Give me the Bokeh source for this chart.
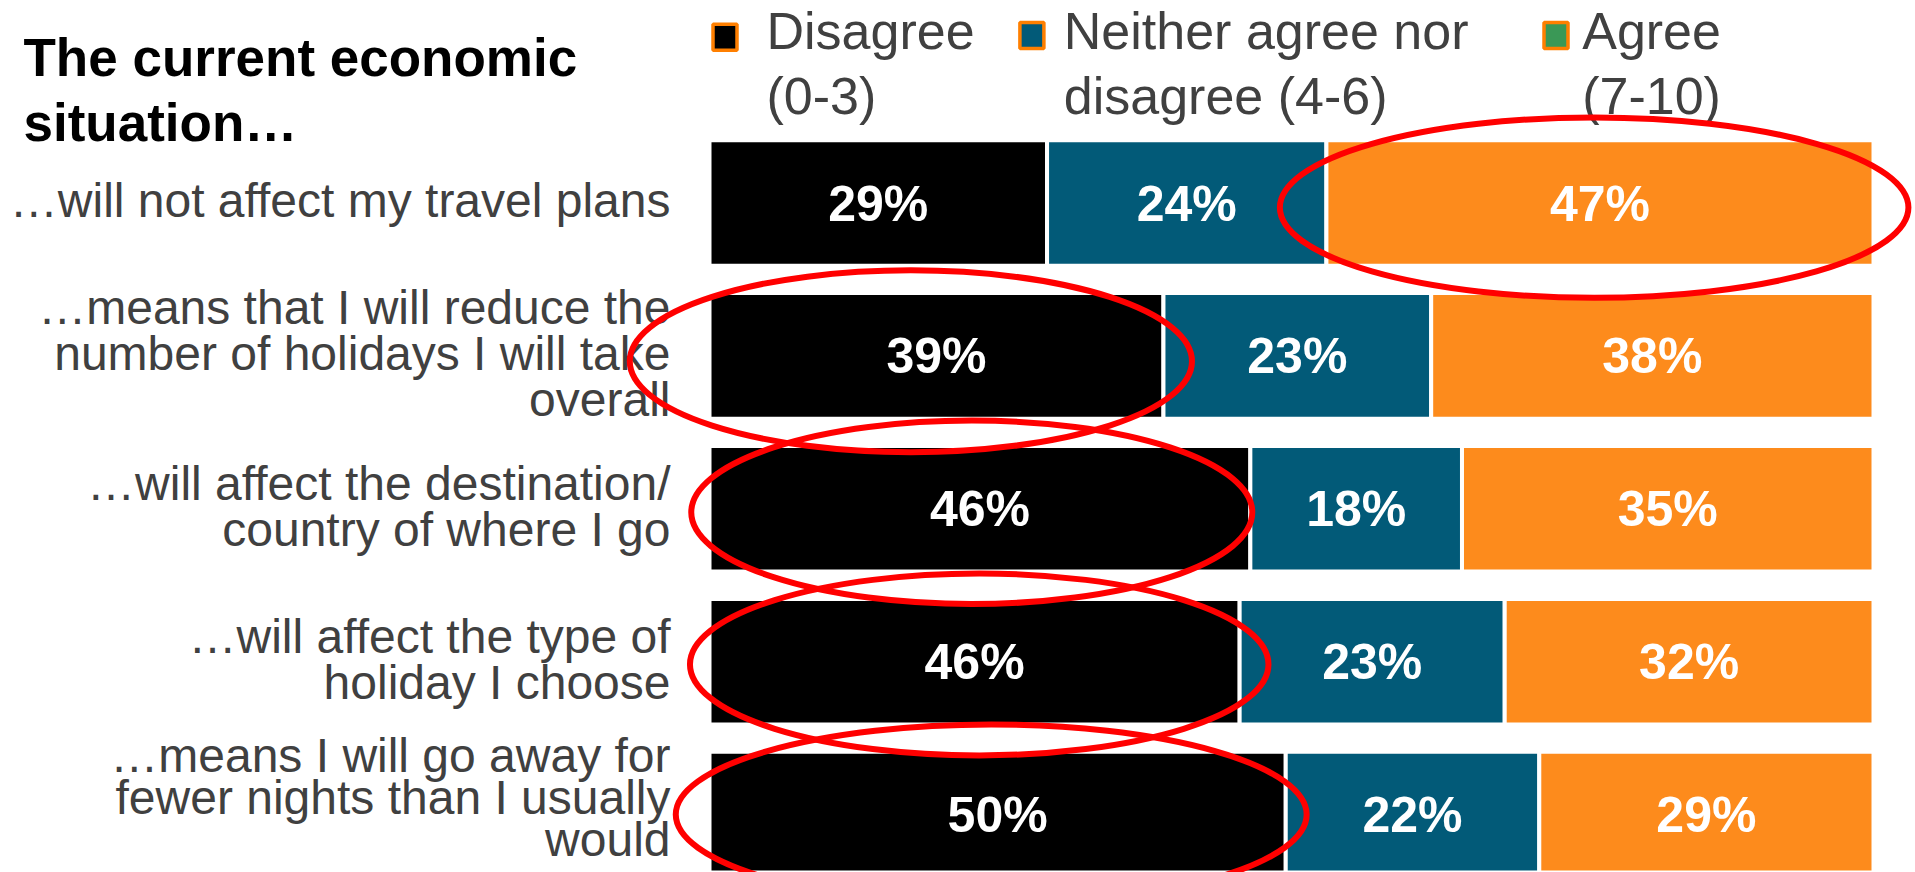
from bokeh.plotting import figure
from bokeh.models import Range1d, ColumnDataSource
from bokeh.core.properties import value
from bokeh.embed import file_html
from bokeh.resources import INLINE

# ---------------- data ----------------
categories = [
    "…will not affect my travel plans",
    "…means that I will reduce the\nnumber of holidays I will take\noverall",
    "…will affect the destination/\ncountry of where I go",
    "…will affect the type of\nholiday I choose",
    "…means I will go away for\nfewer nights than I usually\nwould",
]
disagree = [29, 39, 46, 46, 50]
neither = [24, 23, 18, 23, 22]
agree = [47, 38, 35, 32, 29]

series_names = ["Disagree", "Neither agree nor disagree", "Agree"]
legend_lines = [["Disagree", "(0-3)"], ["Neither agree nor", "disagree (4-6)"], ["Agree", "(7-10)"]]
title_lines = ["The current economic", "situation…"]

# highlighted (circled) cells: row index, segment index
hl_rows = [0, 1, 2, 3, 4]
hl_segs = [2, 0, 0, 0, 0]

# ---------------- styles / layout ----------------
COLORS = ["#000000", "#025A78", "#FD8B1C"]
LEGEND_FILLS = ["#000000", "#025A78", "#3A9856"]
LEGEND_BORDER = "#FF7F00"
TEXT_GREY = "#404040"
FONT = "Liberation Sans"

W, H = 1915, 872
PAGE_OFF = 0
X0_PX = 709.0        # page px where value 0 sits
PX_PER_X = 11.64     # px per percentage point
ROW0_PX = 202.5      # page px of first row centre
PX_PER_ROW = 152.9
# empirical correction: rendered alphabetic baseline sits lower than asked
FIX_PCT, FIX_LAB, FIX_TITLE, FIX_LEG = 19, 17, 20, 20


def px_to_x(px):
    return (px - X0_PX) / PX_PER_X


def px_to_y(py):
    return (py - ROW0_PX) / PX_PER_ROW


p = figure(width=W, height=H, output_backend="svg", toolbar_location=None,
           x_axis_type=None, y_axis_type=None, min_border=0,
           x_range=Range1d(px_to_x(PAGE_OFF), px_to_x(PAGE_OFF + W)),
           y_range=Range1d(px_to_y(PAGE_OFF + H), px_to_y(PAGE_OFF)))
p.outline_line_color = None
p.xgrid.visible = False
p.ygrid.visible = False
p.background_fill_color = "white"
p.border_fill_color = "white"

rows = list(range(len(categories)))
vals = [disagree, neither, agree]
totals = [d + n + a for d, n, a in zip(disagree, neither, agree)]

# bars (each row normalised to its own total, as in the original)
lefts = [[0.0] * len(rows) for _ in vals]
rights = [[0.0] * len(rows) for _ in vals]
for r in rows:
    acc = 0.0
    for s in range(3):
        w = vals[s][r] / totals[r] * 100.0
        lefts[s][r] = acc
        rights[s][r] = acc + w
        acc += w

BAR_H = (121.6 + 4) / PX_PER_ROW
for s in range(3):
    src = ColumnDataSource(dict(
        y=rows, left=lefts[s], right=rights[s],
        mid=[(l + r) / 2 for l, r in zip(lefts[s], rights[s])],
        ty=[r + (19.5 - FIX_PCT) / PX_PER_ROW for r in rows],
        lab=[f"{v}%" for v in vals[s]],
    ))
    p.hbar(y="y", left="left", right="right", height=BAR_H, source=src,
           fill_color=COLORS[s], line_color="white", line_width=4)
    p.text(x="mid", y="ty", text="lab", source=src,
           text_font=value(FONT), text_font_style="bold", text_font_size="50px",
           text_color="white", text_align="center", text_baseline="alphabetic")

# category labels (right aligned, multi-line)
LINE_PX = [46, 46, 46, 46, 42]
BASE_DY = [14.5, 14.5, 15, 14.5, 0]
lx, ly, lt = [], [], []
for r, cat in zip(rows, categories):
    lines = cat.split("\n")
    n = len(lines)
    for k, t in enumerate(lines):
        lx.append(px_to_x(670))
        ly.append(r + ((k - (n - 1) / 2) * LINE_PX[r] + BASE_DY[r] - FIX_LAB) / PX_PER_ROW)
        lt.append(t)
p.text(x=lx, y=ly, text=lt, text_font=value(FONT), text_font_size="48px",
       text_color=TEXT_GREY, text_align="right", text_baseline="alphabetic")

# title
p.text(x=[px_to_x(23)] * 2, y=[px_to_y(77 - FIX_TITLE), px_to_y(141.7 - FIX_TITLE)],
       text=title_lines,
       text_font=value(FONT), text_font_style="bold", text_font_size="53px",
       text_color="black", text_align="left", text_baseline="alphabetic")

# legend
marker_cx = [724.5, 1031.4, 1555.5]
marker_cy = [36.7, 35.0, 35.0]
text_x = [766, 1063.3, 1581.7]
p.rect(x=[px_to_x(v) for v in marker_cx], y=[px_to_y(v) for v in marker_cy],
       width=24, height=26, width_units="screen", height_units="screen",
       fill_color=LEGEND_FILLS, line_color=LEGEND_BORDER, line_width=3.5)
tx, ty, tt = [], [], []
for i, lines in enumerate(legend_lines):
    for k, t in enumerate(lines):
        tx.append(px_to_x(text_x[i]))
        ty.append(px_to_y(50 + 65 * k - FIX_LEG))
        tt.append(t)
p.text(x=tx, y=ty, text=tt, text_font=value(FONT), text_font_size="52px",
       text_color=TEXT_GREY, text_align="left", text_baseline="alphabetic")

# red highlight ellipses around the circled cells
hl_dx = [-0.5, -2.2, -0.7, 0.4, -0.55]
hl_w = [54.0, 48.3, 48.2, 49.7, 54.2]
hl_h = [1.18, 1.19, 1.20, 1.19, 1.18]
hl_dy = [0.03, 0.035, 0.023, 0.018, 0.0]
ex = [(lefts[s][r] + rights[s][r]) / 2 + dx for r, s, dx in zip(hl_rows, hl_segs, hl_dx)]
ey = [r + dy for r, dy in zip(hl_rows, hl_dy)]
p.ellipse(x=ex, y=ey, width=[w * PX_PER_X for w in hl_w],
          height=[h * PX_PER_ROW for h in hl_h],
          width_units="screen", height_units="screen",
          fill_color=None, line_color="#FF0000", line_width=6)

open("out.html", "w").write(file_html(p, INLINE))
